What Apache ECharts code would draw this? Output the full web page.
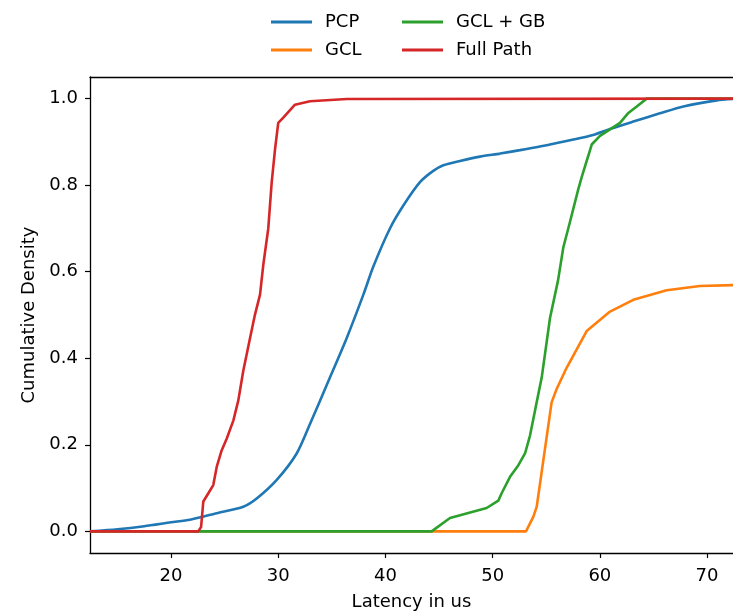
<!DOCTYPE html>
<html>
<head>
<meta charset="utf-8">
<script src="https://cdn.jsdelivr.net/npm/echarts@6/dist/echarts.min.js"></script>
<style>
html,body{margin:0;padding:0;background:#fff;}
#c{width:733px;height:616px;}
</style>
</head>
<body>
<div id="c"></div>
<script>
// ---- data ----
const seriesNames = ['PCP', 'GCL', 'GCL + GB', 'Full Path'];
const seriesColors = ['#1f77b4', '#ff7f0e', '#2ca02c', '#d62728'];

const pcpX = [12.44, 15, 17.5, 20, 21.77, 24.26, 26.74, 27.99, 29.86, 31.72, 32.96, 34.83, 36.39, 37.94, 38.87, 40.42, 41.67, 43.22, 44.46, 45.4, 46.95, 48.82, 50.69, 52.55, 55.35, 59.08, 60.95, 63.12, 65.6, 67.79, 70.9, 72.42];
const pcpY = [0.0, 0.005, 0.012, 0.021, 0.027, 0.042, 0.057, 0.076, 0.119, 0.18, 0.248, 0.356, 0.447, 0.547, 0.612, 0.7, 0.753, 0.807, 0.833, 0.846, 0.856, 0.866, 0.873, 0.881, 0.894, 0.914, 0.93, 0.947, 0.966, 0.982, 0.996, 0.999];

const gclX = [12.44, 53.11, 53.8, 54.11, 55.5, 55.97, 56.9, 58.77, 60.95, 63.12, 66.23, 69.33, 72.42];
const gclY = [0.0, 0.0, 0.034, 0.057, 0.298, 0.329, 0.378, 0.463, 0.508, 0.535, 0.557, 0.567, 0.569];

const gcrX = [12.44, 44.31, 46.02, 49.44, 50.53, 50.84, 51.62, 52.4, 53.02, 53.49, 53.95, 54.58, 55.35, 56.1, 56.59, 57.21, 57.99, 58.3, 58.92, 59.24, 60.01, 60.95, 61.88, 62.66, 63.44, 64.37, 72.42];
const gcrY = [0.0, 0.0, 0.031, 0.054, 0.071, 0.088, 0.126, 0.153, 0.18, 0.222, 0.279, 0.356, 0.493, 0.58, 0.656, 0.715, 0.791, 0.818, 0.868, 0.894, 0.914, 0.929, 0.944, 0.967, 0.982, 1.0, 1.0];

const fullX = [12.44, 22.54, 22.8, 23.01, 23.48, 23.94, 24.26, 24.72, 25.19, 25.81, 26.27, 26.74, 27.37, 27.83, 28.3, 28.6, 29.07, 29.39, 29.7, 30.0, 30.47, 31.56, 32.96, 36.4, 72.42];
const fullY = [0.0, 0.0, 0.01, 0.069, 0.088, 0.107, 0.149, 0.187, 0.214, 0.256, 0.302, 0.371, 0.447, 0.501, 0.547, 0.615, 0.7, 0.807, 0.883, 0.944, 0.956, 0.986, 0.994, 0.999, 1.0];

const xTicks = [20, 30, 40, 50, 60, 70];
const yTicks = [0.0, 0.2, 0.4, 0.6, 0.8, 1.0];

const xRange = [12.44, 72.42];
const yRange = [-0.05, 1.05];

// ---- build ----
function zip(xs, ys) { return xs.map((x, i) => [x, ys[i]]); }
const allData = [zip(pcpX, pcpY), zip(gclX, gclY), zip(gcrX, gcrY), zip(fullX, fullY)];

const FONT = 'DejaVu Sans';
const chart = echarts.init(document.getElementById('c'), null, { renderer: 'canvas' });

const legendBase = {
  orient: 'vertical',
  top: 8,
  itemWidth: 41,
  itemHeight: 3,
  itemGap: 10,
  icon: 'rect',
  textStyle: { fontFamily: FONT, fontSize: 18, color: '#000', padding: [0, 0, 0, 8] }
};

chart.setOption({
  animation: false,
  backgroundColor: '#fff',
  color: seriesColors,
  textStyle: { fontFamily: FONT },
  legend: [
    Object.assign({}, legendBase, { left: 266, data: [seriesNames[0], seriesNames[1]] }),
    Object.assign({}, legendBase, { left: 397, data: [seriesNames[2], seriesNames[3]] })
  ],
  grid: { left: 90, top: 77, right: 0, bottom: 59, containLabel: false },
  xAxis: [{
    type: 'value',
    min: xRange[0], max: xRange[1],
    name: 'Latency in us',
    nameLocation: 'middle',
    nameGap: 40,
    nameTextStyle: { fontFamily: FONT, fontSize: 18, color: '#000' },
    axisLine: { show: true, onZero: false, lineStyle: { color: '#000', width: 1.3 } },
    axisTick: { show: true, length: 5, lineStyle: { color: '#000', width: 1.2 }, customValues: xTicks },
    axisLabel: { fontFamily: FONT, fontSize: 18, color: '#000', margin: 14, customValues: xTicks, formatter: v => String(v) },
    splitLine: { show: false }
  }, {
    type: 'value',
    position: 'top',
    min: xRange[0], max: xRange[1],
    axisLine: { show: true, onZero: false, lineStyle: { color: '#000', width: 1.3 } },
    axisTick: { show: false },
    axisLabel: { show: false },
    splitLine: { show: false }
  }],
  yAxis: {
    type: 'value',
    min: yRange[0], max: yRange[1],
    name: 'Cumulative Density',
    nameLocation: 'middle',
    nameGap: 50,
    nameTextStyle: { fontFamily: FONT, fontSize: 18, color: '#000' },
    axisLine: { show: true, onZero: false, lineStyle: { color: '#000', width: 1.3 } },
    axisTick: { show: true, length: 5, lineStyle: { color: '#000', width: 1.2 }, customValues: yTicks },
    axisLabel: { fontFamily: FONT, fontSize: 18, color: '#000', margin: 12, customValues: yTicks, formatter: v => v.toFixed(1) },
    splitLine: { show: false }
  },
  series: seriesNames.map((n, i) => ({
    name: n,
    type: 'line',
    data: allData[i],
    showSymbol: false,
    symbol: 'none',
    smooth: i === 0 ? 0.25 : false,
    lineStyle: { width: 2.6, color: seriesColors[i] },
    itemStyle: { color: seriesColors[i] },
    clip: true,
    z: 2 + i
  }))
});
</script>
</body>
</html>
